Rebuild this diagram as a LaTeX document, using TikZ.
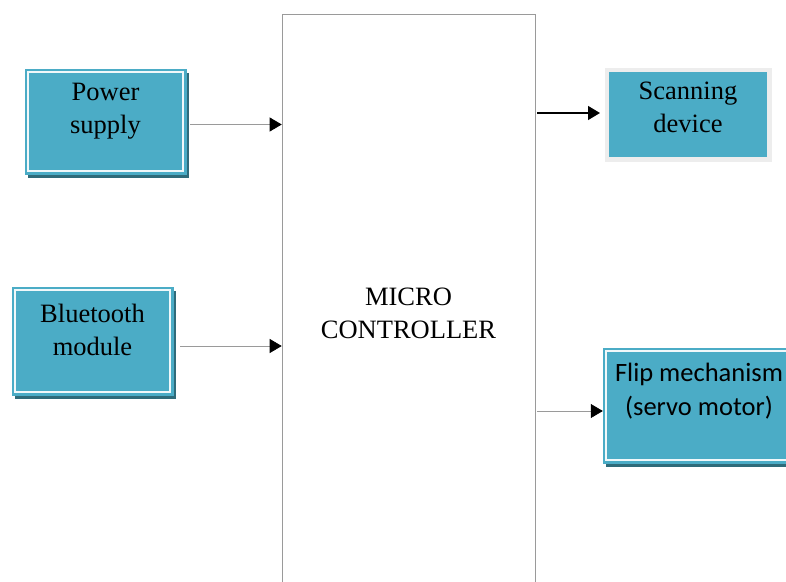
\documentclass[tikz,border=0pt]{standalone}
\usepackage{fontspec}
\setmainfont{Liberation Serif}
\newfontfamily\calibri{Carlito}
\usepackage{tikz}
\usetikzlibrary{arrows.meta,shadows}
\definecolor{boxteal}{HTML}{4BACC6}
\definecolor{shadeteal}{HTML}{2F6B7A}
\definecolor{framegray}{HTML}{EDEDED}
\definecolor{shadegray}{HTML}{A3A7A9}
\definecolor{linegray}{HTML}{9A9A9A}
\tikzset{
  arr/.style={-{Triangle[length=12pt,width=14pt,color=black]},draw=linegray,line width=0.7pt},
  barr/.style={-{Triangle[length=12pt,width=14pt]},black,line width=1.3pt},
  txt/.style={font=\fontsize{26.5}{33}\selectfont,align=center,text=black},
  tbox/.style={rectangle,fill=boxteal,draw=boxteal,thin,
    drop shadow={shadow xshift=3pt,shadow yshift=-4pt,fill=shadeteal,opacity=1},
    path picture={\draw[white!92!boxteal,line width=2pt]
      ([shift={(3pt,-3pt)}]path picture bounding box.north west) rectangle
      ([shift={(-3pt,3pt)}]path picture bounding box.south east);}},
  sbox/.style={rectangle,fill=boxteal,draw=framegray,line width=4.5pt,
    drop shadow={shadow xshift=2.5pt,shadow yshift=-3pt,fill=shadegray,opacity=1}},
  mbox/.style={rectangle,draw=linegray,line width=0.6pt,txt,
    minimum width=253pt,minimum height=598pt},
}
\begin{document}
\begin{tikzpicture}[x=1pt,y=-1pt]
\useasboundingbox (0,0) rectangle (786,581);
\clip (0,0) rectangle (786,581);

\node[mbox] (mcu) at (408.5,313) {MICRO\\CONTROLLER};

\node[tbox,minimum width=161pt,minimum height=105pt,
  label={[txt,yshift=10pt]center:{Power\\supply}}] (pwr) at (105.5,121.5) {};
\node[tbox,minimum width=161pt,minimum height=108pt,
  label={[txt,yshift=11pt]center:{Bluetooth\\module}}] (bt) at (92.5,341) {};
\node[sbox,minimum width=162.5pt,minimum height=89.5pt,
  label={[txt,yshift=7pt]center:{Scanning\\device}}] (scan) at (688,114.5) {};
\node[tbox,minimum width=192pt,minimum height=115pt,
  label={[txt,font=\calibri\fontsize{26.5}{34}\selectfont,yshift=14pt]center:{Flip mechanism\\(servo motor)}}] (flip) at (699,405.5) {};

\coordinate (pwrout) at ([shift={(4pt,-3pt)}]pwr.east);
\coordinate (btout) at ([shift={(7pt,-5pt)}]bt.east);
\coordinate (scanin) at ([shift={(-4.5pt,1.5pt)}]scan.west);
\coordinate (flipin) at ([yshift=-5.5pt]flip.west);

\draw[arr] (pwrout) -- (pwrout -| mcu.west);
\draw[arr] (btout) -- (btout -| mcu.west);
\draw[barr,shorten <=2pt] (scanin -| mcu.east) -- (scanin);
\draw[arr,shorten <=2pt] (flipin -| mcu.east) -- (flipin);
\end{tikzpicture}
\end{document}
